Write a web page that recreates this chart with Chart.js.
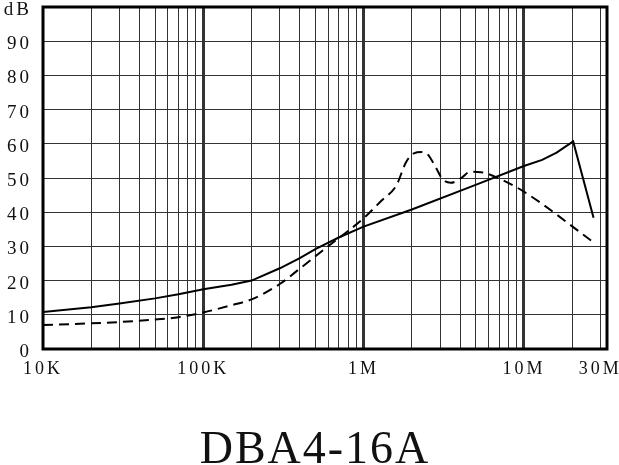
<!DOCTYPE html>
<html>
<head>
<meta charset="utf-8">
<script src="https://cdn.jsdelivr.net/npm/chart.js@4"></script>
<style>
  html, body { margin: 0; padding: 0; background: #fff; }
  #wrap { width: 619px; height: 465px; }
</style>
</head>
<body>
<div id="wrap"><canvas id="chart" width="619" height="465"></canvas></div>
<script>
// frequency (Hz) and attenuation (dB)
const solidFreq = [10000, 20000, 30000, 50000, 70000, 100000, 150000, 200000, 300000, 400000, 500000, 700000, 1000000, 2000000, 5000000, 10000000, 13000000, 16000000, 20300000, 27200000];
const solidDb   = [10.8, 12.2, 13.3, 14.8, 16.0, 17.5, 18.8, 20, 23.6, 26.6, 29.2, 32.6, 35.8, 40.8, 48, 53.5, 55.3, 57.4, 60.7, 38.4];

const dashFreq = [10000, 20000, 30000, 50000, 70000, 100000, 150000, 200000, 300000, 400000, 630000, 800000, 1000000, 1300000, 1600000, 1840000, 2060000, 2300000, 2500000, 2830000, 3100000, 3500000, 4100000, 4600000, 5400000, 6750000, 10000000, 27200000];
const dashDb   = [7.0, 7.5, 7.9, 8.6, 9.3, 10.7, 12.8, 14.5, 19, 23.5, 30.8, 34.5, 38.2, 43.5, 47.8, 54.6, 57.2, 57.6, 57, 53, 49.7, 48.6, 50.1, 51.8, 51.7, 50.2, 46, 31.2];

// grid lines on the log axis and the few that carry a label
const xGridValues = [
  10000, 20000, 30000, 40000, 50000, 60000, 70000, 80000, 90000,
  100000, 200000, 300000, 400000, 500000, 600000, 700000, 800000, 900000,
  1000000, 2000000, 3000000, 4000000, 5000000, 6000000, 7000000, 8000000, 9000000,
  10000000, 20000000, 30000000
];
const xTickLabels = { 10000: '10K', 100000: '100K', 1000000: '1M', 10000000: '10M', 30000000: '30M' };
const boldLines = [100000, 1000000, 10000000];

const yTicks = [0, 10, 20, 30, 40, 50, 60, 70, 80, 90, 100];
const yUnit = 'dB';
const chartTitle = 'DBA4-16A';

const serif = '"Liberation Serif", "Times New Roman", serif';

const toPoints = (xs, ys) => xs.map((x, i) => ({ x: x, y: ys[i] }));

// thick frame round the plot and the model name below it
const framePlugin = {
  id: 'frame',
  beforeDraw(chart) {
    chart.ctx.letterSpacing = '3px';
  },
  beforeDatasetsDraw(chart) {
    const a = chart.chartArea;
    const ctx = chart.ctx;
    ctx.save();
    ctx.strokeStyle = '#000';
    ctx.lineWidth = 3;
    ctx.strokeRect(a.left, a.top, a.right - a.left, a.bottom - a.top);
    ctx.restore();
  },
  afterDraw(chart) {
    const ctx = chart.ctx;
    ctx.save();
    ctx.letterSpacing = '2px';
    ctx.font = '46px ' + serif;
    ctx.fillStyle = '#111';
    ctx.textAlign = 'center';
    ctx.textBaseline = 'alphabetic';
    ctx.fillText(chartTitle, 315, 463);
    ctx.restore();
  }
};

new Chart(document.getElementById('chart'), {
  type: 'line',
  data: {
    datasets: [
      {
        label: 'solid',
        data: toPoints(solidFreq, solidDb),
        borderColor: '#000',
        borderWidth: 2,
        pointRadius: 0,
        tension: 0
      },
      {
        label: 'dashed',
        data: toPoints(dashFreq, dashDb),
        borderColor: '#000',
        borderWidth: 2,
        borderDash: [10, 6],
        pointRadius: 0,
        cubicInterpolationMode: 'monotone'
      }
    ]
  },
  options: {
    responsive: false,
    animation: false,
    layout: { padding: { top: 7, right: 12, left: 0, bottom: 0 } },
    plugins: {
      legend: { display: false },
      tooltip: { enabled: false }
    },
    scales: {
      x: {
        type: 'logarithmic',
        min: 10000,
        max: 33000000,
        afterBuildTicks: s => { s.ticks = xGridValues.map(v => ({ value: v })); },
        afterFit: s => { s.height = 116; s.paddingLeft = 0; s.paddingRight = 0; },
        border: { display: false },
        grid: {
          drawTicks: false,
          color: '#333',
          lineWidth: ctx => (ctx.tick && boldLines.includes(ctx.tick.value)) ? 3 : 1
        },
        ticks: {
          autoSkip: false,
          maxRotation: 0,
          padding: 9,
          color: '#111',
          font: { family: serif, size: 18 },
          callback: v => xTickLabels[v] || ''
        }
      },
      y: {
        min: 0,
        max: 100,
        afterBuildTicks: s => { s.ticks = yTicks.map(v => ({ value: v })); },
        afterFit: s => { s.width = 43; s.paddingTop = 0; s.paddingBottom = 0; },
        border: { display: false },
        grid: { drawTicks: false, color: '#333', lineWidth: 1 },
        ticks: {
          padding: 11,
          labelOffset: 3,
          color: '#111',
          font: { family: serif, size: 19 },
          callback: v => v === 100 ? yUnit : v
        }
      }
    }
  },
  plugins: [framePlugin]
});
</script>
</body>
</html>
